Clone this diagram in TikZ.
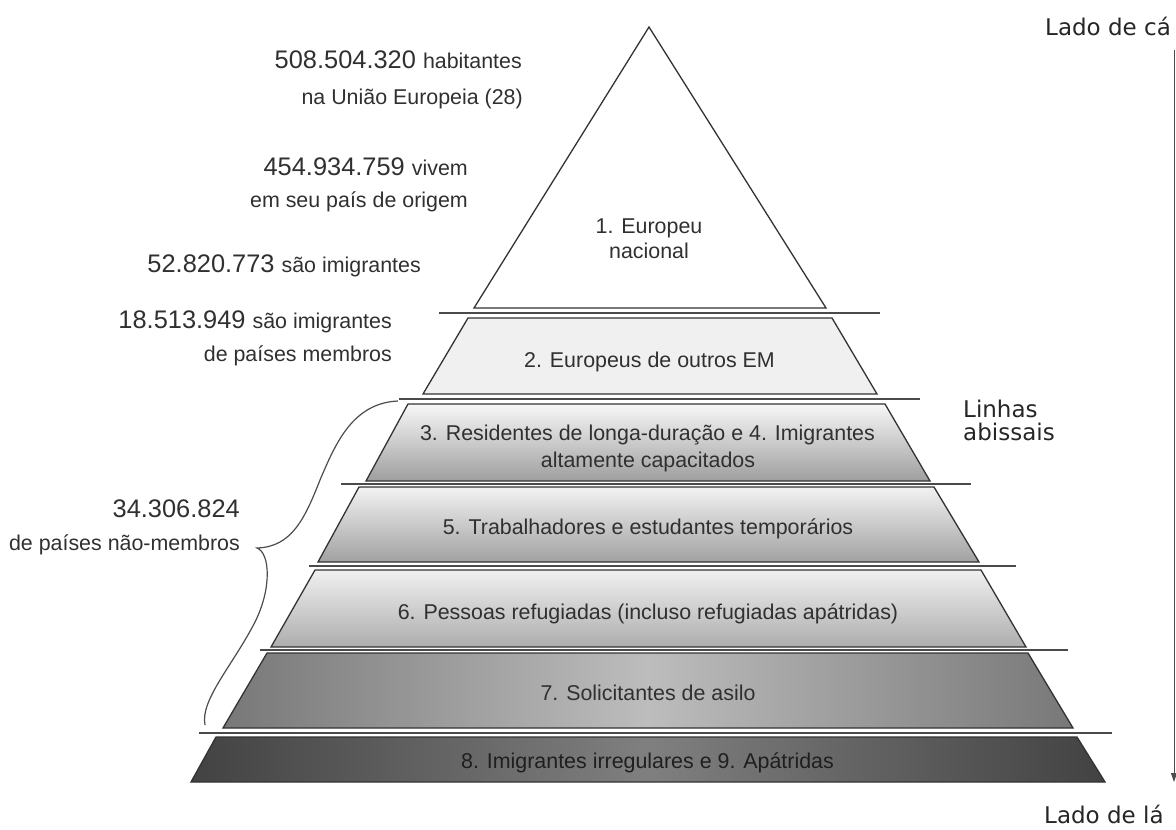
\documentclass[tikz,border=0pt]{standalone}
\usepackage{fontspec}
\setmainfont{Liberation Sans}
\newfontfamily\dvs{DejaVu Sans}
\usetikzlibrary{arrows.meta}
\definecolor{txt}{HTML}{303030}
\definecolor{edge}{HTML}{333333}
\definecolor{sepc}{HTML}{4a4a4a}
\newcommand\myNum{\fontsize{25.4}{30}\selectfont}
\newcommand\mySm{\fontsize{21.4}{25}\selectfont}
\tikzset{
  band/.style={draw=edge, line width=1.3pt, line join=miter},
  seprule/.style={draw=sepc, line width=1.4pt},
  lbl/.style={font=\mySm, text=txt, inner sep=0pt, anchor=base},
  lefttxt/.style={inner sep=0pt, anchor=base east, text=txt},
  sidetxt/.style={font=\dvs\fontsize{23}{23}\selectfont, text=black!85, inner sep=0pt, anchor=base west},
  arrowline/.style={draw=black!70, line width=1pt, -{Triangle[length=9pt,width=6pt]}},
  bracecurve/.style={draw=black!70, line width=1.2pt}
}
\begin{document}
\begin{tikzpicture}[x=1pt,y=-1pt]
\useasboundingbox (0,0) rectangle (1176,830);
% bands
\path[band, fill=white] (649,27) -- (826,308) -- (474,308) -- cycle;
\path[band, fill=black!6] (468,318) -- (832,318) -- (877,394) -- (423,394) -- cycle;
\path[band, top color=black!3, bottom color=black!38] (408,404) -- (885,404) -- (930,481) -- (366,481) -- cycle;
\path[band, top color=black!5, bottom color=black!37] (359,487) -- (934,487) -- (979,562) -- (318,562) -- cycle;
\path[band, top color=black!6, bottom color=black!32] (315,570) -- (981,570) -- (1026,647) -- (271,647) -- cycle;
\path[band, left color=black!53, right color=black!53, middle color=black!26] (267,653) -- (1028,653) -- (1073,728) -- (223,728) -- cycle;
\path[band, left color=black!74, right color=black!74, middle color=black!50] (216,737) -- (1077,737) -- (1105,782) -- (191,782) -- cycle;
% separators
\coordinate (s1a) at (439,313); \coordinate (s1b) at (880,313);
\coordinate (s2a) at (399,399); \coordinate (s2b) at (920,399);
\coordinate (s3a) at (341,484); \coordinate (s3b) at (971,484);
\coordinate (s4a) at (309,566); \coordinate (s4b) at (1016,566);
\coordinate (s5a) at (260,650); \coordinate (s5b) at (1068,650);
\coordinate (s6a) at (199,733); \coordinate (s6b) at (1112,733);
\draw[seprule] (s1a) -- (s1b);
\draw[seprule] (s2a) -- (s2b);
\draw[seprule] (s3a) -- (s3b);
\draw[seprule] (s4a) -- (s4b);
\draw[seprule] (s5a) -- (s5b);
\draw[seprule] (s6a) -- (s6b);
% band labels
\node[lbl] (l1a) at (649,233) {1. Europeu};
\node[lbl] (l1b) at (649,258) {nacional};
\node[lbl] (l2) at (649.5,367) {2. Europeus de outros EM};
\node[lbl] (l3a) at (647.5,440.5) {3. Residentes de longa-duração e 4. Imigrantes};
\node[lbl] (l3b) at (648,467) {altamente capacitados};
\node[lbl] (l5) at (648,534.5) {5. Trabalhadores e estudantes temporários};
\node[lbl] (l6) at (648,619.5) {6. Pessoas refugiadas (incluso refugiadas apátridas)};
\node[lbl] (l7) at (648,700) {7. Solicitantes de asilo};
\node[lbl, text=black!88] (l8) at (647.5,768.5) {8. Imigrantes irregulares e 9. Apátridas};
% left texts
\node[lefttxt] (t1a) at (522,68) {\myNum 508.504.320 \mySm habitantes};
\node[lefttxt] (t1b) at (523,104) {\mySm na União Europeia (28)};
\node[lefttxt] (t2a) at (468,175) {\myNum 454.934.759 \mySm vivem};
\node[lefttxt] (t2b) at (468,207) {\mySm em seu país de origem};
\node[lefttxt] (t3) at (421,272) {\myNum 52.820.773 \mySm são imigrantes};
\node[lefttxt] (t4a) at (392,328) {\myNum 18.513.949 \mySm são imigrantes};
\node[lefttxt] (t4b) at (392,361) {\mySm de países membros};
\node[lefttxt] (t5a) at (240,517) {\myNum 34.306.824};
\node[lefttxt] (t5b) at (240,550) {\mySm de países não-membros};
% brace
\coordinate (brTop) at (398,401);
\coordinate (brTip) at (257,548);
\coordinate (brBot) at (205,725);
\draw[bracecurve] (brTop) .. controls (352,403) and (335,445) .. (320,480)
  .. controls (305,518) and (292,547) .. (brTip)
  .. controls (270,553) and (272,588) .. (255,622)
  .. controls (233,665) and (200,700) .. (brBot);
% right side
\node[sidetxt] (linhasA) at (963,417) {Linhas};
\node[sidetxt] (linhasB) at (963,440) {abissais};
\node[sidetxt] (ladoCa) at (1045,35) {Lado de cá};
\node[sidetxt] (ladoLa) at (1044,823) {Lado de lá};
\coordinate (arrTop) at (1174,50);
\coordinate (arrBot) at (1174,782);
\draw[arrowline] (arrTop) -- (arrBot);
\end{tikzpicture}
\end{document}
